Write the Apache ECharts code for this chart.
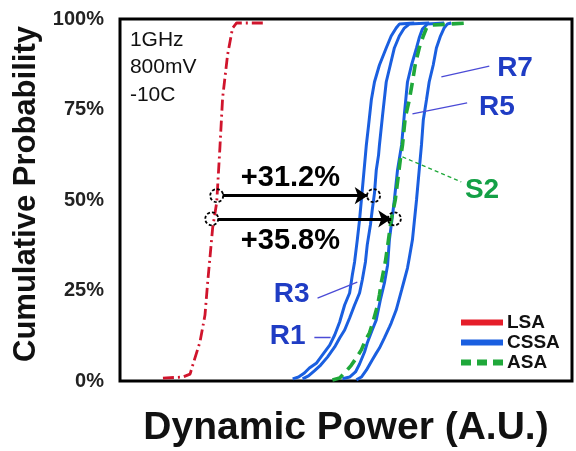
<!DOCTYPE html>
<html>
<head>
<meta charset="utf-8">
<script src="https://cdn.jsdelivr.net/npm/echarts@6/dist/echarts.min.js"></script>
<style>
html,body{margin:0;padding:0;background:#fff;}
#c{width:576px;height:451px;}
</style>
</head>
<body>
<div id="c"></div>
<script>
// ---- Data (x: dynamic power, arbitrary units; y: cumulative probability %) ----
const lsaX  = [9.5,13.9,15.5,16.1,17.7,18.8,19.4,20.5,21.4,22.1,22.7,23.8,24.9,25.8,32.0];
const lsaY  = [0.8,1.1,1.9,4.4,10.8,18.2,27.3,42.3,49.4,64.4,78.2,90.1,97.5,98.9,98.9];

const r1X = [38.2,39.5,40.8,41.9,43.5,44.8,46.4,47.5,48.6,49.7,50.8,51.4,51.9,52.5,53.0,53.4,53.9,54.3,54.5,55.0,55.6,56.3,57.4,58.9,60.0,61.1,61.8,65.1];
const r1Y = [0.6,1.1,2.2,3.6,5.0,7.2,9.9,12.7,16.3,21.0,24.3,29.3,32.9,39.0,44.5,50.0,56.9,62.4,65.2,70.7,77.6,82.6,87.3,92.0,95.3,97.5,98.6,98.9];

const r3X = [40.4,41.7,43.0,44.4,45.9,47.5,48.6,49.7,50.8,51.9,53.0,53.6,54.3,54.7,55.4,55.8,56.3,56.7,57.2,57.4,58.1,58.9,59.8,60.7,61.8,62.9,64.0,68.4];
const r3Y = [0.6,1.4,2.8,4.4,6.6,9.4,11.9,14.1,17.4,21.0,24.3,27.9,32.9,37.6,43.1,47.2,51.9,58.3,62.4,65.2,73.5,82.6,87.3,92.0,95.3,97.5,98.6,98.9];

const r5X = [49.2,50.8,52.1,53.0,54.1,54.7,55.8,56.7,57.6,58.5,59.2,59.6,60.3,60.7,61.4,62.3,62.9,63.6,64.5,65.6,66.2,66.9,68.0,71.7];
const r5Y = [0.6,1.1,2.5,4.7,8.0,10.5,14.1,16.9,22.4,27.1,32.0,39.0,45.9,50.0,58.3,65.2,73.5,82.6,87.3,92.0,94.8,97.2,98.6,98.9];

const r7X = [52.3,53.4,54.5,55.8,56.7,57.4,58.5,59.6,60.0,61.1,62.3,62.9,63.6,64.0,64.7,65.6,66.2,66.7,67.1,67.8,68.4,69.3,70.0,70.9,71.7,72.4,73.3];
const r7Y = [0.3,1.1,3.0,5.8,7.7,9.1,11.9,14.9,16.0,19.6,25.1,27.9,31.2,34.0,39.0,50.0,58.3,65.2,72.1,77.6,82.6,87.3,92.0,95.3,97.5,98.6,98.9];

const s2X = [47.0,48.6,49.9,51.2,52.3,53.4,54.3,55.2,56.1,57.0,57.4,57.8,58.7,59.4,60.0,60.9,61.6,62.0,62.5,63.1,64.0,64.7,65.3,66.2,67.1,67.8,68.9,76.8];
const s2Y = [0.3,0.8,2.5,4.4,6.4,8.6,11.3,13.3,16.9,21.0,23.8,27.1,32.9,39.0,44.5,50.0,56.9,61.0,65.2,72.7,77.6,82.6,87.3,92.0,95.3,97.5,98.3,98.9];

const yTicks = [0, 25, 50, 75, 100];

// improvement arrows: [fromX, toX, y]
const arrowTop    = [22.7, 54.8, 51.2];
const arrowBottom = [21.6, 60.0, 44.8];
// dashed circles marking the compared points
const circlePts = [[21.4,51.2],[56.1,51.2],[20.3,44.8],[60.7,44.8]];

const zip = (xs, ys) => xs.map((x, i) => [x, ys[i]]);

const BLUE = '#1a5fe0';
const RED = '#d0142c';
const GREEN = '#1fa83a';
const LBLUE = '#1f3cc4';
const FONT = 'Liberation Sans, Arial, sans-serif';

const blueSeries = (data) => ({
  name: 'CSSA', type: 'line', data: data, showSymbol: false, symbol: 'none',
  lineStyle: { color: BLUE, width: 3 }, itemStyle: { color: BLUE }, z: 3
});

const txt = (x, y, text, style, pos) => ({
  value: [x, y],
  label: Object.assign({ show: true, formatter: text, position: pos || 'inside',
    fontFamily: FONT, opacity: 1 }, style)
});

const chart = echarts.init(document.getElementById('c'), null, { renderer: 'canvas' });
chart.setOption({
  animation: false,
  backgroundColor: '#fff',
  grid: { left: 120, right: 4, top: 19, bottom: 70, show: true, borderColor: '#000', borderWidth: 3,
          containLabel: false, outerBoundsMode: 'none' },
  xAxis: {
    type: 'value', min: 0, max: 100,
    axisLabel: { show: false }, axisTick: { show: false }, splitLine: { show: false },
    axisLine: { show: false },
    name: 'Dynamic Power (A.U.)', nameLocation: 'middle', nameGap: 28,
    nameTextStyle: { fontFamily: FONT, fontWeight: 'bold', fontSize: 39, color: '#111' }
  },
  yAxis: {
    type: 'value', min: yTicks[0], max: yTicks[yTicks.length - 1], interval: 25,
    axisLabel: { formatter: '{value}%', fontFamily: FONT, fontWeight: 'bold', fontSize: 20, color: '#222', margin: 16 },
    axisTick: { show: false }, splitLine: { show: false }, axisLine: { show: false },
    name: 'Cumulative Probability', nameLocation: 'middle', nameGap: 58,
    nameTextStyle: { fontFamily: FONT, fontWeight: 'bold', fontSize: 31, color: '#111', padding: [0, 0, 0, 12] }
  },
  legend: {
    orient: 'vertical', left: 461, top: 313, itemWidth: 42, itemHeight: 6, itemGap: 1,
    padding: 0, selectedMode: false,
    textStyle: { fontFamily: FONT, fontWeight: 'bold', fontSize: 19, color: '#111', padding: [0,0,0,-1] },
    data: [
      { name: 'LSA', icon: 'rect', itemStyle: { color: '#e51e2a' } },
      { name: 'CSSA', icon: 'rect', itemStyle: { color: BLUE } },
      { name: 'ASA', icon: 'path://M0,0h10v6h-10z M16,0h10v6h-10z M32,0h10v6h-10z', itemStyle: { color: GREEN } }
    ]
  },
  series: [
    { name: 'LSA', type: 'line', data: zip(lsaX, lsaY), showSymbol: false, symbol: 'none',
      lineStyle: { color: RED, width: 2.8, type: [11, 4, 2, 4] }, itemStyle: { color: RED }, z: 3 },
    blueSeries(zip(r1X, r1Y)),
    blueSeries(zip(r3X, r3Y)),
    blueSeries(zip(r5X, r5Y)),
    blueSeries(zip(r7X, r7Y)),
    { name: 'ASA', type: 'line', data: zip(s2X, s2Y), showSymbol: false, symbol: 'none',
      lineStyle: { color: GREEN, width: 3.6, type: [12, 7] }, itemStyle: { color: GREEN }, z: 4 },
    { name: 'arrows', type: 'lines', coordinateSystem: 'cartesian2d', z: 6,
      symbol: ['none', 'arrow'], symbolSize: 13,
      lineStyle: { color: '#000', width: 3, opacity: 1 },
      data: [
        { coords: [[arrowTop[0], arrowTop[2]], [arrowTop[1], arrowTop[2]]] },
        { coords: [[arrowBottom[0], arrowBottom[2]], [arrowBottom[1], arrowBottom[2]]] }
      ] },
    { name: 'circles', type: 'scatter', z: 7, symbol: 'circle', symbolSize: 13,
      itemStyle: { color: 'rgba(0,0,0,0)', borderColor: '#000', borderWidth: 1.8, borderType: [3, 2], opacity: 1 },
      data: circlePts },
    { name: 'leaders', type: 'lines', coordinateSystem: 'cartesian2d', z: 5,
      lineStyle: { width: 1.3, opacity: 1 },
      data: [
        { coords: [[71.1, 84.0], [81.7, 87.0]], lineStyle: { color: '#4b4bd6' } },
        { coords: [[64.7, 73.8], [76.8, 76.8]], lineStyle: { color: '#4b4bd6' } },
        { coords: [[43.7, 22.9], [52.5, 27.3]], lineStyle: { color: '#4b4bd6' } },
        { coords: [[43.0, 12.2], [46.6, 12.2]], lineStyle: { color: '#4b4bd6' } },
        { coords: [[62.5, 61.9], [75.5, 55.0]], lineStyle: { color: GREEN, type: [4, 3] } }
      ] },
    { name: 'labels', type: 'scatter', symbolSize: 0, z: 8, silent: true,
      itemStyle: { opacity: 1 },
      data: [
        txt(37.7, 56.1, '+31.2%', { fontSize: 29, fontWeight: 'bold', color: '#000' }),
        txt(37.7, 38.7, '+35.8%', { fontSize: 29, fontWeight: 'bold', color: '#000' }),
        txt(87.4, 86.5, 'R7', { fontSize: 28, fontWeight: 'bold', color: LBLUE }),
        txt(83.4, 75.7, 'R5', { fontSize: 28, fontWeight: 'bold', color: LBLUE }),
        txt(80.1, 52.8, 'S2', { fontSize: 28, fontWeight: 'bold', color: '#14a046' }),
        txt(38.0, 24.0, 'R3', { fontSize: 28, fontWeight: 'bold', color: LBLUE }),
        txt(37.1, 12.3, 'R1', { fontSize: 28, fontWeight: 'bold', color: LBLUE }),
        txt(2.2, 94.2, '1GHz', { fontSize: 21, color: '#111', distance: 0 }, 'right'),
        txt(2.2, 86.7, '800mV', { fontSize: 21, color: '#111', distance: 0 }, 'right'),
        txt(2.2, 79.0, '-10C', { fontSize: 21, color: '#111', distance: 0 }, 'right')
      ] }
  ]
});
</script>
</body>
</html>
